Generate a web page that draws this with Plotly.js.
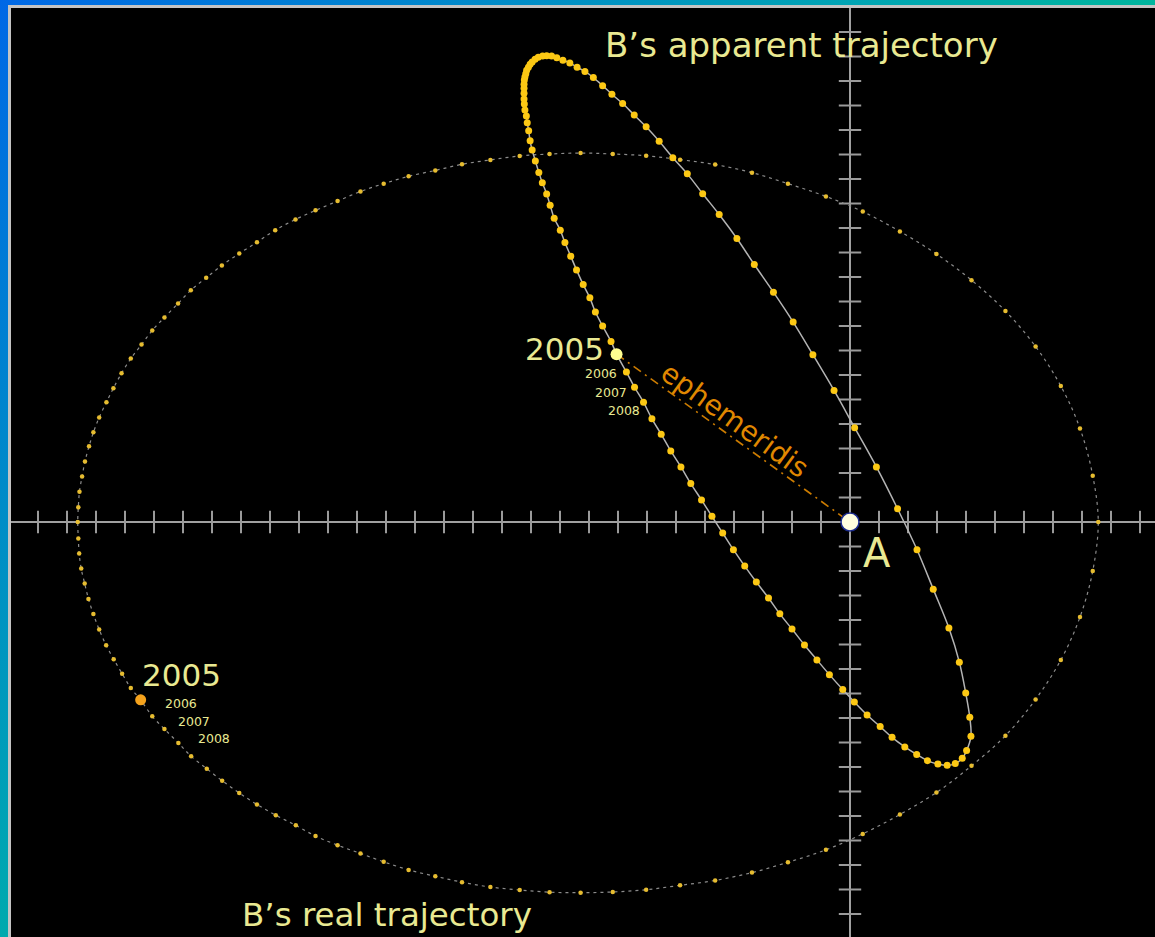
<!DOCTYPE html>
<html>
<head>
<meta charset="utf-8">
<script src="https://cdn.plot.ly/plotly-3.0.1.min.js"></script>
<style>
html,body{margin:0;padding:0;width:1155px;height:937px;overflow:hidden;
  background:linear-gradient(135deg,#0068e6 0%,#00a6b2 42%,#00c884 72%,#00d060 100%);}
#frame{position:absolute;left:8px;top:5px;width:1144px;height:929px;
  border-left:3px solid #c4c4c4;border-top:3px solid #c4c4c4;background:#000;}
#chart{width:1144px;height:929px;}
</style>
</head>
<body>
<div id="frame"><div id="chart"></div></div>
<script>
// B's real trajectory (tick units, A at origin), starting at 2005
const realX = [-24.46,-24.06,-23.64,-23.16,-22.72,-22.18,-21.65,-21.06,-20.45,-19.80,-19.11,-18.43,-17.67,-16.88,-16.08,-15.22,-14.30,-13.38,-12.40,-11.39,-10.36,-9.29,
  -8.18,-7.03,-5.86,-4.65,-3.38,-2.14,-0.83,0.44,1.72,2.98,4.19,5.36,6.40,7.27,7.93,8.37,
  8.56,
  8.37,7.93,7.27,6.40,5.36,4.19,2.98,1.72,0.44,-0.83,-2.14,-3.38,-4.65,-5.86,-7.03,-8.18,
  -9.29,-10.36,-11.39,-12.40,-13.38,-14.30,-15.22,-16.08,-16.88,-17.67,-18.43,-19.12,-19.82,-20.45,-21.06,-21.66,-22.20,-22.73,-23.17,-23.64,-24.06,-24.43,-24.80,-25.12,-25.40,-25.64,-25.89,-26.09,-26.24,-26.38,-26.48,-26.57,-26.61,-26.63,
  -26.61,-26.58,-26.51,-26.39,-26.26,-26.09,-25.89,-25.65,-25.39,-25.10,-24.80];
const realY = [-7.26,-7.93,-8.45,-9.02,-9.56,-10.07,-10.56,-11.06,-11.53,-11.97,-12.38,-12.82,-13.19,-13.53,-13.87,-14.20,-14.46,-14.70,-14.90,-15.02,-15.11,-15.13,
  -15.10,-15.01,-14.83,-14.63,-14.31,-13.89,-13.38,-12.73,-11.94,-11.04,-9.95,-8.72,-7.24,-5.63,-3.88,-2.00,
  0.00,
  1.89,3.82,5.55,7.16,8.61,9.87,10.94,11.86,12.67,13.29,13.81,14.26,14.59,14.79,14.95,15.02,
  15.06,15.02,14.94,14.78,14.60,14.35,14.11,13.81,13.49,13.10,12.72,12.35,11.91,11.42,10.96,10.47,9.97,9.46,8.92,8.35,7.82,7.24,6.67,6.07,5.46,4.89,4.27,3.66,3.09,2.47,1.86,1.23,0.60,0.00,
  -0.67,-1.29,-1.90,-2.51,-3.14,-3.76,-4.39,-5.03,-5.60,-6.19,-6.78];

// B's apparent trajectory, starting at 2005
const appX = [-8.05,-7.71,-7.43,-7.12,-6.83,-6.51,-6.18,-5.83,-5.49,-5.12,-4.76,-4.39,-4.02,-3.63,-3.23,-2.81,-2.42,-2.00,-1.57,-1.14,-0.71,-0.25,
  0.15,0.59,1.04,1.45,1.89,2.30,2.67,3.03,3.35,3.63,3.87,4.02,4.17,4.13,3.99,3.77,3.41,2.87,2.31,1.64,0.91,0.16,
  -0.55,-1.28,-1.96,-2.64,-3.30,-3.90,-4.51,-5.08,-5.61,-6.11,-6.58,-7.03,-7.44,-7.84,-8.21,-8.53,-8.85,-9.14,-9.41,-9.66,-9.90,-10.11,-10.29,-10.46,-10.60,-10.75,-10.86,-10.96,-11.03,-11.09,-11.15,-11.18,-11.21,-11.23,-11.24,-11.24,-11.24,-11.24,-11.23,-11.21,-11.16,-11.13,-11.08,-11.03,-10.96,-10.85,-10.73,-10.61,-10.46,-10.34,-10.20,-9.99,-9.83,-9.63,-9.43,-9.20,-8.97,-8.78,-8.53,-8.24];
const appY = [6.85,6.12,5.50,4.89,4.21,3.58,2.90,2.25,1.57,0.90,0.23,-0.45,-1.13,-1.80,-2.45,-3.10,-3.75,-4.37,-5.02,-5.63,-6.23,-6.84,
  -7.35,-7.88,-8.35,-8.79,-9.18,-9.49,-9.74,-9.88,-9.93,-9.86,-9.64,-9.33,-8.75,-7.97,-6.98,-5.72,-4.33,-2.74,-1.13,0.54,2.25,3.85,
  5.37,6.83,8.16,9.38,10.51,11.57,12.55,13.40,14.21,14.87,15.54,16.13,16.61,17.08,17.46,17.81,18.14,18.39,18.56,18.74,18.85,18.95,19.02,19.03,19.02,18.97,18.89,18.78,18.68,18.56,18.44,18.30,18.16,18.04,17.87,17.70,17.50,17.27,17.06,16.82,16.57,16.30,15.97,15.56,15.18,14.74,14.27,13.85,13.39,12.93,12.40,11.91,11.41,10.85,10.29,9.69,9.15,8.57,8.00,7.37];

// star A
const aX = [0];
const aY = [0];

// axis tick positions
const xTicks = [-28,-27,-26,-25,-24,-23,-22,-21,-20,-19,-18,-17,-16,-15,-14,-13,-12,-11,-10,-9,-8,-7,-6,-5,-4,-3,-2,-1,1,2,3,4,5,6,7,8,9,10];
const yTicks = [-16,-15,-14,-13,-12,-11,-10,-9,-8,-7,-6,-5,-4,-3,-2,-1,1,2,3,4,5,6,7,8,9,10,11,12,13,14,15,16,17,18,19,20];

// labels
const yearLabels = ['2005','2006','2007','2008'];
const titleApparent = 'B\u2019s apparent trajectory';
const titleReal = 'B\u2019s real trajectory';
const ephemLabel = 'ephemeridis';
const starLabel = 'A';

const txt = '#e9e992';
const fam = 'DejaVu Sans';

const traces = [
  {x: xTicks, y: xTicks.map(() => 0), mode: 'markers', type: 'scatter',
   marker: {symbol: 'line-ns', size: 16, color: '#9a9a9a', line: {color: '#9a9a9a', width: 2}}},
  {x: yTicks.map(() => 0), y: yTicks, mode: 'markers', type: 'scatter',
   marker: {symbol: 'line-ew', size: 16, color: '#9a9a9a', line: {color: '#9a9a9a', width: 2}}},
  {x: realX.concat([realX[0]]), y: realY.concat([realY[0]]), mode: 'lines+markers', type: 'scatter',
   line: {color: '#8c8c8c', width: 1.2, dash: '3px,4px', shape: 'spline', smoothing: 1},
   marker: {size: 4.5, color: '#e6bc30'}},
  {x: appX.concat([appX[0]]), y: appY.concat([appY[0]]), mode: 'lines+markers', type: 'scatter',
   line: {color: '#b4b4b4', width: 1.5, shape: 'spline', smoothing: 1},
   marker: {size: 7, color: '#fcc814'}},
  {x: [appX[0], aX[0]], y: [appY[0], aY[0]], mode: 'lines', type: 'scatter',
   line: {color: '#cc7c00', width: 1.6, dash: '9px,5px,2px,5px'}},
  {x: [appX[0]], y: [appY[0]], mode: 'markers', type: 'scatter',
   marker: {size: 12, color: '#ffff90'}},
  {x: [realX[0]], y: [realY[0]], mode: 'markers', type: 'scatter',
   marker: {size: 11, color: '#f5a21c'}},
  {x: aX, y: aY, mode: 'markers', type: 'scatter',
   marker: {size: 18, color: '#ffffe0', line: {color: '#1c2c8c', width: 1.5}}}
];

function ann(x, y, text, size, xanchor, extra) {
  return Object.assign({x: x, y: y, xref: 'x', yref: 'y', text: text, showarrow: false,
    xanchor: xanchor, yanchor: 'middle', font: {family: fam, size: size, color: txt}}, extra || {});
}

const layout = {
  width: 1144, height: 929,
  margin: {l: 0, r: 0, t: 0, b: 0, pad: 0},
  paper_bgcolor: '#000', plot_bgcolor: '#000',
  showlegend: false,
  xaxis: {range: [-28.931, 10.517], showgrid: false, showticklabels: false, ticks: '',
          zeroline: true, zerolinecolor: '#a0a0a0', zerolinewidth: 2, showline: false, fixedrange: true},
  yaxis: {range: [-16.939, 20.980], showgrid: false, showticklabels: false, ticks: '',
          zeroline: true, zerolinecolor: '#a0a0a0', zerolinewidth: 2, showline: false, fixedrange: true},
  annotations: [
    ann(-8.40, 7.061, yearLabels[0], 31, 'right'),
    ann(-9.207, 6.061, yearLabels[1], 12.5, 'left'),
    ann(-8.862, 5.286, yearLabels[2], 12.5, 'left'),
    ann(-8.431, 4.551, yearLabels[3], 12.5, 'left'),
    ann(-24.47, -6.233, yearLabels[0], 31, 'left'),
    ann(-23.700, -7.388, yearLabels[1], 12.5, 'left'),
    ann(-23.241, -8.151, yearLabels[2], 12.5, 'left'),
    ann(-22.552, -8.857, yearLabels[3], 12.5, 'left'),
    ann(0.37, -1.265, starLabel, 40, 'left'),
    ann(-8.517, 19.47, titleApparent, 34, 'left'),
    ann(-21.03, -16.04, titleReal, 32.5, 'left'),
    ann(-3.966, 4.163, ephemLabel, 28, 'center', {textangle: 36, font: {family: fam, size: 28, color: '#e08800'}})
  ]
};

Plotly.newPlot('chart', traces, layout, {staticPlot: true, displayModeBar: false});
</script>
</body>
</html>
